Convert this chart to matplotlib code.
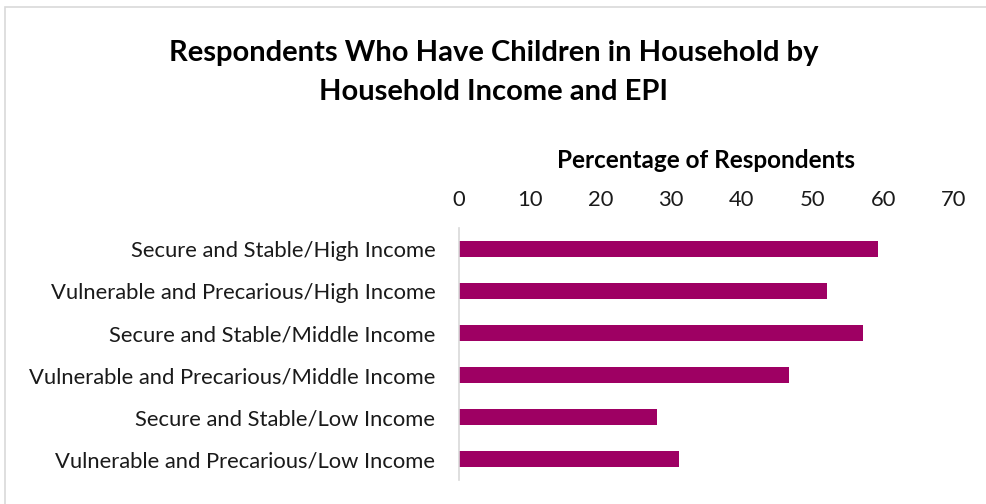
import matplotlib
matplotlib.use("Agg")
import matplotlib.pyplot as plt
from matplotlib.patches import Rectangle

categories = [
    "Secure and Stable/High Income",
    "Vulnerable and Precarious/High Income",
    "Secure and Stable/Middle Income",
    "Vulnerable and Precarious/Middle Income",
    "Secure and Stable/Low Income",
    "Vulnerable and Precarious/Low Income",
]
values = [59.3, 52.1, 57.1, 46.6, 28.0, 31.1]
xticks = [0, 10, 20, 30, 40, 50, 60, 70]

plt.rcParams['font.family'] = ['Lato', 'DejaVu Sans']

fig = plt.figure(figsize=(9.87, 5.04), dpi=100)
ax = fig.add_axes([459/987, (504-480)/504, (954-459)/987, (480-228)/504])

ypos = list(range(len(categories)))
ax.barh(ypos, values, height=0.375, color='#9E0063')
ax.set_ylim(len(categories) - 0.5, -0.5)
ax.set_xlim(0, 70)
ax.set_yticks(ypos)
ax.set_yticklabels(categories, fontsize=15.8, color='#1a1a1a')
ax.set_xticks(xticks)
ax.set_xticklabels([str(t) for t in xticks], fontsize=15.8, color='#1a1a1a')
ax.xaxis.tick_top()
ax.tick_params(axis='both', length=0)
ax.tick_params(axis='x', pad=13)
ax.tick_params(axis='y', pad=17)
for s in ['top', 'right', 'bottom']:
    ax.spines[s].set_visible(False)
ax.spines['left'].set_color('#d9d9d9')
ax.spines['left'].set_linewidth(1.2)

fig.text(706/987, 1 - 160/504, 'Percentage of Respondents', ha='center', va='center',
         fontsize=17.5, fontweight='bold')

fig.text(0.5, 1 - 53/504, "Respondents Who Have Children in Household by",
         ha='center', va='center', fontsize=21, fontweight='bold')
fig.text(0.5, 1 - 92/504, "Household Income and EPI",
         ha='center', va='center', fontsize=21, fontweight='bold')

fig.patches.append(Rectangle((5/987, -0.1), 1.2, 1.1 - 7/504, transform=fig.transFigure,
                             fill=False, edgecolor='#d9d9d9', linewidth=1.2))

fig.savefig('out.png', dpi=100)
